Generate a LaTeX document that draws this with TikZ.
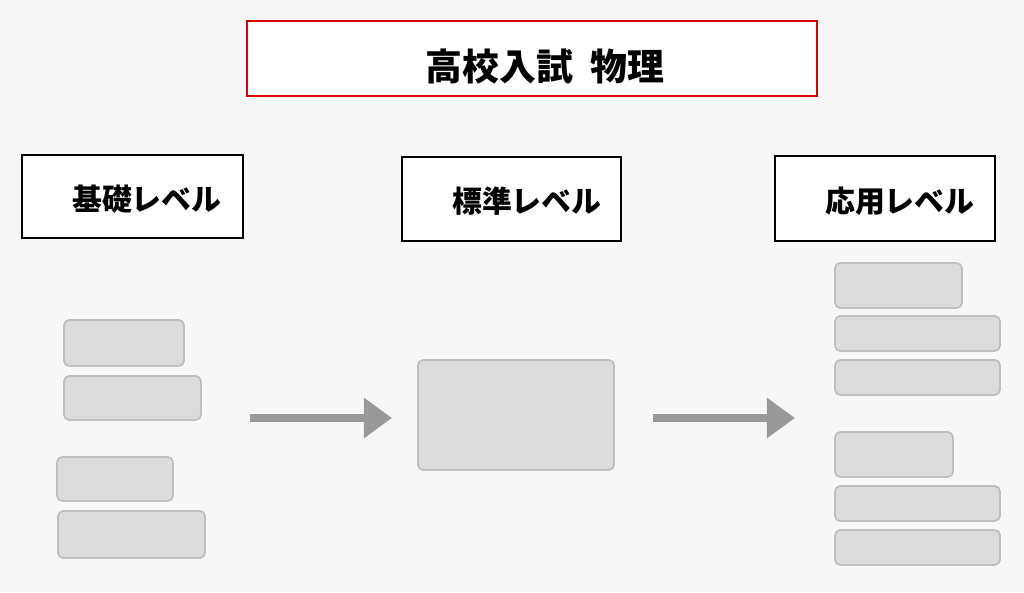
\documentclass[tikz,border=0pt]{standalone}
\usepackage{fontspec}
\newfontfamily\cjk{Noto Sans CJK JP}
\usetikzlibrary{arrows.meta}
\begin{document}
\begin{tikzpicture}[x=0.02cm,y=-0.02cm,
  gbox/.style={draw=black!25,fill=black!14,rounded corners=3pt,line width=1pt},
  lvl/.style={draw=black,line width=1.5pt,fill=white},
  lbl/.style={font=\cjk\bfseries\fontsize{17}{20}\selectfont,anchor=west},
  arr/.style={draw=black!40,line width=5pt,-{Triangle[length=16pt,width=22pt]}}]
\fill[black!3] (0,0) rectangle (1024,592);
\useasboundingbox (0,0) rectangle (1024,592);
\draw[draw=red!85!black,line width=1.5pt,fill=white] (247,21) rectangle (817,96);
\node[font=\cjk\bfseries\fontsize{21}{24}\selectfont] (title) at (545,66) {高校入試\ \ 物理};
\draw[lvl] (22,155) rectangle (243,238);
\node[lbl] (l1) at (66,199) {基礎レベル};
\draw[lvl] (402,157) rectangle (621,241);
\node[lbl] (l2) at (446,201) {標準レベル};
\draw[lvl] (775,156) rectangle (995,241);
\node[lbl] (l3) at (819,201) {応用レベル};
\draw[gbox] (64,320) rectangle (184,366);
\draw[gbox] (64,376) rectangle (201,420);
\draw[gbox] (57,457) rectangle (173,501);
\draw[gbox] (58,511) rectangle (205,558);
\draw[gbox] (418,360) rectangle (614,470);
\draw[gbox] (835,263) rectangle (962,308);
\draw[gbox] (835,316) rectangle (1000,351);
\draw[gbox] (835,360) rectangle (1000,395);
\draw[gbox] (835,432) rectangle (953,477);
\draw[gbox] (835,486) rectangle (1000,521);
\draw[gbox] (835,530) rectangle (1000,565);
\coordinate (a1s) at (250,418); \coordinate (a1e) at (392,418);
\coordinate (a2s) at (653,418); \coordinate (a2e) at (795,418);
\draw[arr] (a1s) -- (a1e);
\draw[arr] (a2s) -- (a2e);
\end{tikzpicture}
\end{document}
